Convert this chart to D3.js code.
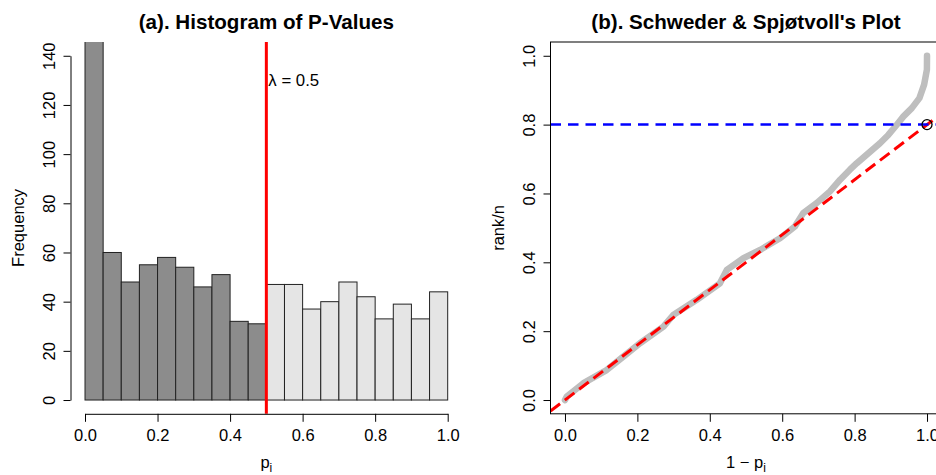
<!DOCTYPE html>
<html>
<head>
<meta charset="utf-8">
<script src="https://cdn.jsdelivr.net/npm/d3@7"></script>
<style>
  html, body { margin: 0; padding: 0; background: #fff; }
  svg { display: block; }
  text { font-family: "Liberation Sans", Arial, Helvetica, sans-serif; fill: #000; }
</style>
</head>
<body>
<svg id="chart" width="936" height="475"></svg>
<script>
// ---------------- data ----------------
const binBreaks = [0, 0.05, 0.1, 0.15, 0.2, 0.25, 0.3, 0.35, 0.4, 0.45, 0.5,
                   0.55, 0.6, 0.65, 0.7, 0.75, 0.8, 0.85, 0.9, 0.95, 1.0];
const binCounts = [155, 60, 48, 55, 58, 54, 46, 51, 32, 31,
                   47, 47, 37, 40, 48, 42, 33, 39, 33, 44];
const lambda = 0.5;
const freqTicks = [0, 20, 40, 60, 80, 100, 120, 140];
const pTicks = [0, 0.2, 0.4, 0.6, 0.8, 1.0];
const rankTicks = [0, 0.2, 0.4, 0.6, 0.8, 1.0];

// Schweder & Spjotvoll curve: x = 1 - p_i, y = rank/n
const oneMinusP = [0, 0.005, 0.051, 0.115, 0.161, 0.207, 0.272, 0.299, 0.364, 0.428,
                   0.447, 0.493, 0.539, 0.594, 0.635, 0.658, 0.695, 0.732, 0.760, 0.787,
                   0.806, 0.838, 0.870, 0.893, 0.916, 0.935, 0.958, 0.979, 0.992, 0.9997, 1.0];
const rankOverN = [0, 0.010, 0.049, 0.087, 0.126, 0.165, 0.213, 0.247, 0.291, 0.339,
                   0.378, 0.412, 0.436, 0.470, 0.504, 0.543, 0.572, 0.606, 0.640, 0.669,
                   0.688, 0.717, 0.746, 0.770, 0.799, 0.824, 0.848, 0.877, 0.916, 0.960, 1.0];
const pi0 = 0.8;

// ---------------- layout ----------------
const svg = d3.select("#chart");
const tickFont = "16.5px";
const titleFont = "20.6px";

const A = { left: 70.5, right: 462.2, top: 42, bottom: 413.8 };
const B = { left: 550.5, right: 941.5, top: 42, bottom: 413.8 };

function extScale(dom, lo, hi) {
  // R-style 4% axis extension
  const span = dom[1] - dom[0];
  return d3.scaleLinear().domain([dom[0] - 0.04 * span, dom[1] + 0.04 * span]).range([lo, hi]);
}

const xA = extScale([0, 1], A.left, A.right);
const yA = extScale([0, 140], A.bottom, A.top);
const xB = extScale([0, 1], B.left, B.right);
const yB = extScale([0, 1], B.bottom, B.top);

const defs = svg.append("defs");
defs.append("clipPath").attr("id", "clipA").append("rect")
  .attr("x", A.left).attr("y", A.top).attr("width", A.right - A.left).attr("height", A.bottom - A.top);
defs.append("clipPath").attr("id", "clipB").append("rect")
  .attr("x", B.left).attr("y", B.top).attr("width", B.right - B.left).attr("height", B.bottom - B.top);

function styleAxis(g) {
  g.selectAll("path.domain").attr("stroke", "#000").attr("stroke-width", 1);
  g.selectAll(".tick line").attr("stroke", "#000").attr("stroke-width", 1);
  g.selectAll(".tick text").style("font-size", tickFont).attr("font-family", null);
}

function leftAxis(scale, ticks, xpos, fmt) {
  const g = svg.append("g").attr("transform", `translate(${xpos},0)`)
    .call(d3.axisLeft(d3.scaleLinear().domain([ticks[0], ticks[ticks.length - 1]])
      .range([scale(ticks[0]), scale(ticks[ticks.length - 1])]))
      .tickValues(ticks).tickFormat(fmt).tickSize(7).tickSizeOuter(0));
  styleAxis(g);
  g.selectAll(".tick text")
    .attr("x", null).attr("text-anchor", "middle").attr("dy", "0.36em")
    .attr("transform", "translate(-21,0) rotate(-90)");
  return g;
}

function bottomAxis(scale, ticks, ypos, fmt) {
  const g = svg.append("g").attr("transform", `translate(0,${ypos})`)
    .call(d3.axisBottom(d3.scaleLinear().domain([ticks[0], ticks[ticks.length - 1]])
      .range([scale(ticks[0]), scale(ticks[ticks.length - 1])]))
      .tickValues(ticks).tickFormat(fmt).tickSize(8).tickSizeOuter(0));
  styleAxis(g);
  g.selectAll(".tick text").attr("y", 27).attr("dy", 0);
  return g;
}

const f1 = d3.format(".1f");
const f0 = d3.format("d");

// ---------------- panel (a) ----------------
const bars = svg.append("g").attr("clip-path", "url(#clipA)");
bars.selectAll("rect").data(binCounts).join("rect")
  .attr("x", (d, i) => xA(binBreaks[i]))
  .attr("width", (d, i) => xA(binBreaks[i + 1]) - xA(binBreaks[i]))
  .attr("y", d => yA(d))
  .attr("height", d => yA(0) - yA(d))
  .attr("fill", (d, i) => binBreaks[i] < lambda ? "#8c8c8c" : "#e5e5e5")
  .attr("stroke", "#222").attr("stroke-width", 1);

svg.append("line")
  .attr("x1", xA(lambda)).attr("x2", xA(lambda))
  .attr("y1", A.top).attr("y2", A.bottom)
  .attr("stroke", "#ff0000").attr("stroke-width", 3);

svg.append("text").attr("x", xA(lambda) + 2).attr("y", yA(130) + 6)
  .style("font-size", "16.8px")
  .text("λ = 0.5");

leftAxis(yA, freqTicks, A.left, f0);
bottomAxis(xA, pTicks, A.bottom, f1);

svg.append("text").attr("x", (A.left + A.right) / 2).attr("y", 29)
  .attr("text-anchor", "middle").style("font-size", titleFont).style("font-weight", "bold")
  .text("(a). Histogram of P-Values");

svg.append("text").attr("transform", `translate(18,${(A.top + A.bottom) / 2}) rotate(-90)`)
  .attr("text-anchor", "middle").attr("dy", "0.36em").style("font-size", tickFont)
  .text("Frequency");

const xlabA = svg.append("text").attr("x", (A.left + A.right) / 2).attr("y", 468)
  .attr("text-anchor", "middle").style("font-size", tickFont);
xlabA.append("tspan").text("p");
xlabA.append("tspan").attr("dy", 4).style("font-size", "12px").text("i");

// ---------------- panel (b) ----------------
const plotB = svg.append("g").attr("clip-path", "url(#clipB)");
const curvePts = oneMinusP.map((x, i) => [x, rankOverN[i]]);
plotB.append("path")
  .attr("d", d3.line().x(d => xB(d[0])).y(d => yB(d[1])).curve(d3.curveLinear)(curvePts))
  .attr("fill", "none").attr("stroke", "#bebebe").attr("stroke-width", 6.5)
  .attr("stroke-linejoin", "round").attr("stroke-linecap", "round");

const xd = xB.domain();
plotB.append("line")
  .attr("x1", xB(xd[0])).attr("y1", yB(pi0 * xd[0]))
  .attr("x2", xB(xd[1])).attr("y2", yB(pi0 * xd[1]))
  .attr("stroke", "#ff0000").attr("stroke-width", 3).attr("stroke-dasharray", "12,6");

plotB.append("line")
  .attr("x1", B.left).attr("x2", B.right)
  .attr("y1", yB(pi0)).attr("y2", yB(pi0))
  .attr("stroke", "#0000ff").attr("stroke-width", 2.5).attr("stroke-dasharray", "10.5,7");

plotB.append("circle").attr("cx", xB(1)).attr("cy", yB(pi0)).attr("r", 5)
  .attr("fill", "none").attr("stroke", "#000").attr("stroke-width", 1.3);

svg.append("rect").attr("x", B.left).attr("y", B.top)
  .attr("width", B.right - B.left).attr("height", B.bottom - B.top)
  .attr("fill", "none").attr("stroke", "#000").attr("stroke-width", 1);

const axBL = leftAxis(yB, rankTicks, B.left, f1);
axBL.select("path.domain").remove();
const axBB = bottomAxis(xB, pTicks, B.bottom, f1);
axBB.select("path.domain").remove();

svg.append("text").attr("x", (B.left + B.right) / 2).attr("y", 29)
  .attr("text-anchor", "middle").style("font-size", titleFont).style("font-weight", "bold")
  .text("(b). Schweder & Spjøtvoll's Plot");

svg.append("text").attr("transform", `translate(498,${(B.top + B.bottom) / 2}) rotate(-90)`)
  .attr("text-anchor", "middle").attr("dy", "0.36em").style("font-size", tickFont)
  .text("rank/n");

const xlabB = svg.append("text").attr("x", (B.left + B.right) / 2).attr("y", 468)
  .attr("text-anchor", "middle").style("font-size", tickFont);
xlabB.append("tspan").text("1 − p");
xlabB.append("tspan").attr("dy", 4).style("font-size", "12px").text("i");
</script>
</body>
</html>
